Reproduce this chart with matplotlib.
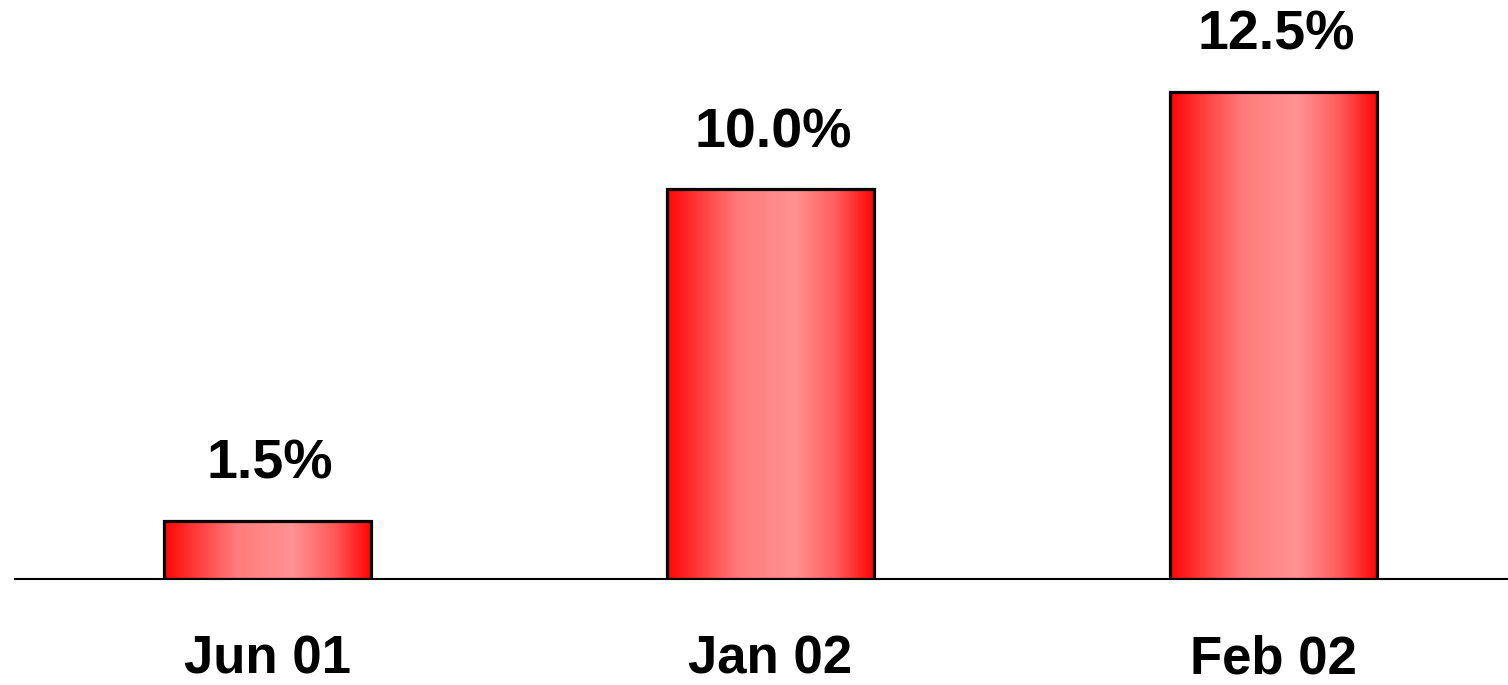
import matplotlib
matplotlib.use("Agg")
import matplotlib.pyplot as plt
import numpy as np
from matplotlib.colors import LinearSegmentedColormap

categories = ["Jun 01", "Jan 02", "Feb 02"]
values = [1.5, 10.0, 12.5]
labels = ["1.5%", "10.0%", "12.5%"]

plt.rcParams['font.family'] = ['Liberation Sans', 'DejaVu Sans']

fig = plt.figure(figsize=(15.08, 6.85), dpi=100)
ax = fig.add_axes([15/1508, 106/685, 1 - 15/1508, 579/685])

x = np.arange(len(categories))
bars = ax.bar(x, values, width=0.41, facecolor='none', edgecolor='black', linewidth=2.3, zorder=3)

cmap = LinearSegmentedColormap.from_list("grad", [
    (0.0, "#FF0606"), (0.12, "#FF3030"), (0.35, "#FF7C7C"),
    (0.62, "#FF9292"), (0.82, "#FF5C5C"), (1.0, "#FF0606")])
grad = np.linspace(0, 1, 256).reshape(1, -1)
for b in bars:
    x0, w, h = b.get_x(), b.get_width(), b.get_height()
    im = ax.imshow(grad, cmap=cmap, aspect='auto', extent=[x0, x0 + w, 0, h],
                   zorder=2, interpolation='bilinear')
    im.set_clip_path(b)

for xi, v, lab in zip(x, values, labels):
    ax.annotate(lab, (xi, v), xytext=(2, 42 * 72 / 100), textcoords='offset points',
                ha='center', va='baseline', fontsize=40, fontweight='bold')

ax.set_xlim(-0.502, 2.466)
ax.set_ylim(0, 579 / 39.0)
ax.set_xticks(x)
ax.set_xticklabels(categories, fontsize=38, fontweight='bold')
ax.tick_params(axis='x', length=0, pad=40)
ax.set_yticks([])
for s in ['top', 'left', 'right']:
    ax.spines[s].set_visible(False)
ax.spines['bottom'].set_linewidth(1.5)
ax.set_facecolor('white')

fig.savefig("out.png", dpi=100)
